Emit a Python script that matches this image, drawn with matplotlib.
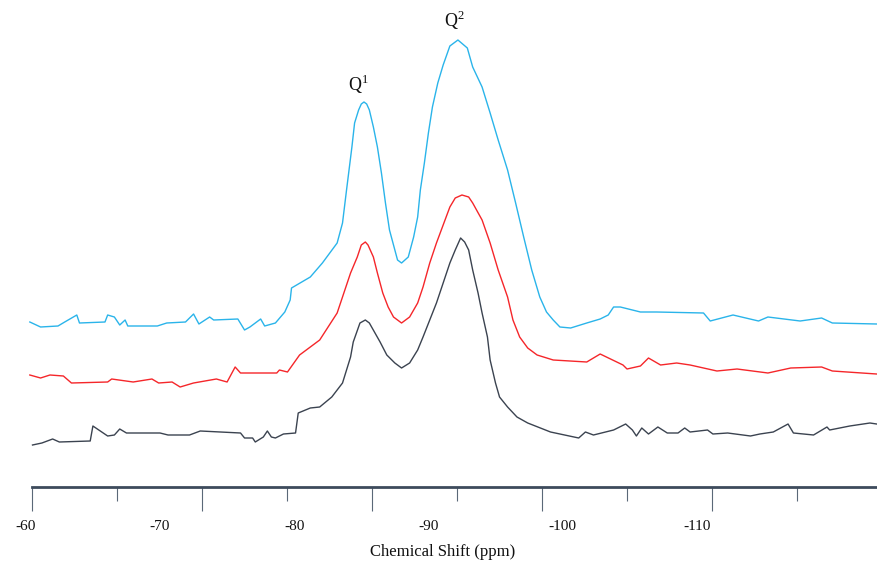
import matplotlib
import matplotlib.pyplot as plt

matplotlib.use("Agg")

plt.rcParams["font.family"] = ["Liberation Serif", "DejaVu Serif"]

# 29Si spectra, chemical shift (ppm) vs intensity (a.u.)
blue_ppm = [-60.3, -61.1, -62.4, -62.9, -63.8, -64.0, -65.9, -66.1, -66.6, -67.0,
            -67.4, -67.6, -69.8, -70.5, -71.9, -72.5, -72.9, -73.7, -74.0, -75.8,
            -76.3, -76.7, -77.5, -77.8, -78.6, -79.3, -79.7, -79.8, -81.2, -82.1,
            -83.2, -83.6, -83.9, -84.3, -84.5, -84.8, -85.0, -85.2, -85.4, -85.6,
            -85.9, -86.2, -86.5, -86.8, -87.1, -87.5, -87.7, -88.0, -88.5, -88.9,
            -89.2, -89.4, -89.7, -90.0, -90.3, -90.7, -91.1, -91.6, -92.2, -92.9,
            -93.3, -94.0, -94.6, -95.2, -95.9, -96.5, -97.1, -97.7, -98.3, -98.8,
            -99.3, -99.8, -100.6, -101.8, -102.8, -103.4, -103.8, -104.3, -105.8, -107.0,
            -110.5, -111.0, -112.7, -114.6, -115.3, -117.7, -119.3, -120.1, -123.4]
blue_int = [165, 160, 161, 165, 172, 164, 165, 172, 170, 162,
            167, 161, 161, 164, 165, 173, 163, 170, 167, 168,
            157, 160, 168, 161, 164, 175, 187, 199, 210, 224,
            244, 264, 297, 340, 364, 377, 383, 385, 383, 377,
            360, 340, 314, 284, 257, 237, 227, 224, 230, 250,
            270, 297, 324, 354, 380, 404, 422, 441, 447, 439,
            420, 400, 374, 347, 317, 284, 250, 217, 190, 175,
            167, 160, 159, 164, 168, 172, 180, 180, 175, 175,
            174, 166, 172, 166, 170, 166, 169, 164, 163]

red_ppm = [-60.3, -61.1, -61.8, -62.8, -63.4, -66.1, -66.4, -68.0, -69.4, -69.9,
           -70.9, -71.5, -72.5, -74.2, -75.0, -75.6, -76.0, -78.7, -78.9, -79.5,
           -80.4, -81.9, -83.2, -84.2, -84.7, -85.0, -85.3, -85.5, -85.9, -86.2,
           -86.6, -87.0, -87.4, -88.0, -88.6, -89.2, -89.6, -90.1, -90.6, -91.1,
           -91.6, -92.0, -92.5, -93.0, -93.3, -94.0, -94.6, -95.2, -95.9, -96.3,
           -96.8, -97.4, -98.1, -99.3, -101.8, -102.8, -104.5, -104.8, -105.8, -106.4,
           -107.3, -108.5, -109.5, -111.5, -113.0, -115.3, -117.0, -119.3, -120.1, -123.4]
red_int = [112, 109, 112, 111, 104, 105, 108, 105, 108, 104,
           105, 100, 104, 108, 105, 120, 114, 114, 117, 115,
           132, 147, 174, 214, 230, 242, 245, 242, 230, 214,
           194, 180, 170, 164, 170, 184, 200, 224, 244, 262,
           280, 289, 292, 290, 284, 267, 244, 217, 190, 167,
           150, 139, 132, 127, 125, 133, 122, 118, 121, 129,
           122, 124, 122, 116, 118, 114, 119, 120, 116, 113]

black_ppm = [-60.5, -61.2, -62.0, -62.5, -64.8, -65.0, -66.1, -66.6, -67.0, -67.5,
             -70.0, -70.6, -72.2, -73.0, -76.0, -76.3, -76.9, -77.1, -77.7, -78.0,
             -78.3, -78.6, -79.2, -80.1, -80.3, -81.2, -81.9, -82.8, -83.6, -84.2,
             -84.4, -84.9, -85.3, -85.6, -86.4, -86.9, -87.5, -88.0, -88.6, -89.2,
             -89.6, -90.1, -90.6, -91.1, -91.6, -92.0, -92.4, -92.7, -93.0, -93.3,
             -93.7, -94.0, -94.4, -94.6, -95.0, -95.3, -95.9, -96.6, -97.4, -99.1,
             -101.2, -101.7, -102.3, -103.8, -104.7, -105.2, -105.5, -105.9, -106.4, -107.1,
             -107.8, -108.6, -109.1, -109.5, -110.8, -111.2, -112.3, -114.0, -114.7, -115.7,
             -116.8, -117.2, -118.7, -119.7, -119.9, -121.4, -122.9, -123.4]
black_int = [42, 44, 48, 45, 46, 61, 51, 52, 58, 54,
             54, 52, 52, 56, 54, 49, 49, 45, 50, 56,
             50, 49, 53, 54, 74, 79, 80, 90, 104, 130,
             145, 164, 167, 164, 145, 132, 124, 119, 124, 137,
             150, 167, 184, 204, 224, 237, 249, 245, 237, 217,
             194, 174, 150, 127, 104, 90, 80, 70, 64, 55,
             49, 55, 52, 57, 63, 57, 51, 59, 53, 60,
             54, 54, 59, 55, 57, 53, 54, 51, 53, 55,
             63, 54, 52, 60, 57, 61, 64, 63]

label_ppm = [-60, -70, -80, -90, -100, -110]
peak_labels = [("Q$^{\\mathregular{1}}$", -84.8, 403), ("Q$^{\\mathregular{2}}$", -91.9, 467)]


def px_to_ppm(px):
    # horizontal pixel of the original figure -> ppm
    return -60 - (px - 25.8) / 13.42


fig = plt.figure(figsize=(8.77, 5.67), dpi=100)
ax = fig.add_axes([32 / 877, 80 / 567, 845 / 877, 487 / 567])

ax.plot(black_ppm, black_int, color="#3b4350", lw=1.0, clip_on=False)
ax.plot(red_ppm, red_int, color="#f5262a", lw=1.0, clip_on=False)
ax.plot(blue_ppm, blue_int, color="#2ab4ea", lw=1.0, clip_on=False)

for text, x, y in peak_labels:
    ax.text(x, y, text, ha="center", va="center", fontsize=13, color="#111111")

ax.set_xlim(px_to_ppm(32), px_to_ppm(877))
ax.set_ylim(0, 487)

for side in ["top", "right", "left"]:
    ax.spines[side].set_visible(False)
ax.spines["bottom"].set_color("#3d4b5c")
ax.spines["bottom"].set_linewidth(2.0)
ax.set_yticks([])

# scale marks: long and short alternating
long_ticks = [px_to_ppm(32 + 170 * k) for k in range(5)]
short_ticks = [px_to_ppm(117 + 170 * k) for k in range(5)]
ax.set_xticks(long_ticks)
ax.set_xticklabels([])
ax.set_xticks(short_ticks, minor=True)
ax.tick_params(axis="x", which="major", length=17, width=0.8, color="#5a6878")
ax.tick_params(axis="x", which="minor", length=10, width=0.8, color="#5a6878")

# ppm labels sit on their own scale below the marks
for v in label_ppm:
    ax.text(v, -39 / 487, str(v), transform=ax.get_xaxis_transform(), ha="center",
            va="center", fontsize=11, color="#111111", clip_on=False)

fig.text(443 / 877, 1 - 552 / 567, "Chemical Shift (ppm)", ha="center", va="center",
         fontsize=12, color="#111111")

fig.savefig("out.png", dpi=100)
